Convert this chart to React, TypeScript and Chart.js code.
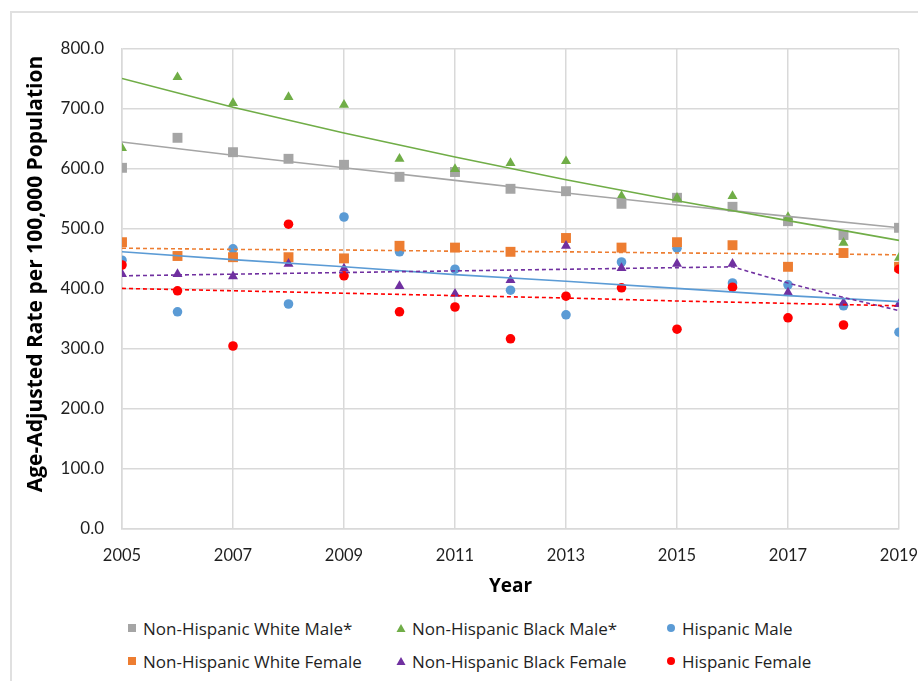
import React, { useEffect, useRef } from 'react';
import { Chart, registerables } from 'chart.js';

Chart.register(...registerables);

// ---- Data ----
const years = [2005, 2006, 2007, 2008, 2009, 2010, 2011, 2012, 2013, 2014, 2015, 2016, 2017, 2018, 2019];
const nhWhiteMale = [602, 652, 628, 617, 607, 587, 595, 567, 563, 542, 552, 537, 513, 490, 502];
const nhBlackMale = [635, 753, 710, 720, 707, 617, 600, 610, 613, 555, 552, 555, 520, 477, 452];
const hispanicMale = [448, 362, 467, 375, 520, 462, 433, 398, 357, 445, 468, 410, 407, 372, 328];
const nhWhiteFemale = [478, 455, 453, 453, 451, 472, 469, 462, 485, 469, 478, 473, 437, 460, 437];
const nhBlackFemale = [425, 425, 421, 442, 434, 405, 392, 415, 472, 435, 442, 442, 394, 377, 375];
const hispanicFemale = [440, 397, 305, 508, 422, 362, 370, 317, 388, 402, 333, 403, 352, 340, 433];

// Trend lines
const trendYears = [2005, 2007, 2009, 2011, 2013, 2015, 2017, 2019];
const trendNhWhiteMale = [645, 623, 602, 581, 560, 540, 521, 502];
const trendNhBlackMale = [751, 703, 660, 620, 582, 547, 514, 481];
const trendHispanicMale = [462, 449, 437, 424, 413, 401, 389, 379];
const trendNhWhiteFemale = [468, 466, 465, 463, 462, 460, 459, 457];
const trendHispanicFemale = [401, 397, 393, 389, 385, 380, 376, 372];
const trendNhBlackFemaleYears = [2005, 2016, 2017, 2018, 2019];
const trendNhBlackFemale = [422, 437, 410, 386, 364];

const yTicks = [0, 100, 200, 300, 400, 500, 600, 700, 800];
const xTicks = [2005, 2007, 2009, 2011, 2013, 2015, 2017, 2019];

const seriesLabels = [
  'Non-Hispanic White Male*',
  'Non-Hispanic Black Male*',
  'Hispanic Male',
  'Non-Hispanic White Female',
  'Non-Hispanic Black Female',
  'Hispanic Female',
];

const COLORS = {
  gray: '#A5A5A5',
  green: '#70AD47',
  blue: '#5B9BD5',
  orange: '#ED7D31',
  purple: '#7030A0',
  red: '#FF0000',
};

const TICK_FONT = 'Lato, "Open Sans", sans-serif';
const TEXT_FONT = '"Open Sans", Lato, sans-serif';

const legendItems = [
  { label: seriesLabels[0], color: COLORS.gray, shape: 'square' },
  { label: seriesLabels[1], color: COLORS.green, shape: 'triangle' },
  { label: seriesLabels[2], color: COLORS.blue, shape: 'circle' },
  { label: seriesLabels[3], color: COLORS.orange, shape: 'square' },
  { label: seriesLabels[4], color: COLORS.purple, shape: 'triangle' },
  { label: seriesLabels[5], color: COLORS.red, shape: 'circle' },
];

function Marker({ shape, color }: { shape: string; color: string }) {
  return (
    <svg width={10} height={10} viewBox="0 0 10 10" style={{ display: 'block' }}>
      {shape === 'square' && <rect x={1} y={1} width={8} height={8} fill={color} />}
      {shape === 'triangle' && <polygon points="5,1 9.5,9 0.5,9" fill={color} />}
      {shape === 'circle' && <circle cx={5} cy={5} r={4} fill={color} />}
    </svg>
  );
}

// Shift the y-axis title upward a little, as in the reference layout.
const yTitleShift = {
  id: 'yTitleShift',
  beforeDraw(chart: any) {
    const s = chart.scales.y;
    if (s && !s.__shifted) {
      const orig = s.drawTitle.bind(s);
      s.drawTitle = (...args: any[]) => {
        const ctx = chart.ctx;
        ctx.save();
        ctx.translate(0, -15);
        orig(...args);
        ctx.restore();
      };
      s.__shifted = true;
    }
  },
};

export default function App() {
  const canvasRef = useRef<HTMLCanvasElement>(null);

  useEffect(() => {
    const canvas = canvasRef.current;
    if (!canvas) return;

    const pts = (xs: number[], vals: number[]) => xs.map((x, i) => ({ x, y: vals[i] }));

    const markerDs = (label: string, vals: number[], color: string, style: string, radius: number, order: number) => ({
      type: 'scatter' as const,
      label,
      data: pts(years, vals),
      backgroundColor: color,
      borderColor: color,
      pointStyle: style,
      pointRadius: radius,
      pointHoverRadius: radius,
      pointBorderWidth: 0,
      showLine: false,
      order,
    });

    const trendDs = (label: string, xs: number[], vals: number[], color: string, dash: number[], order: number) => ({
      type: 'line' as const,
      label,
      data: pts(xs, vals),
      borderColor: color,
      backgroundColor: color,
      borderWidth: 1.6,
      borderDash: dash,
      pointRadius: 0,
      pointHoverRadius: 0,
      fill: false,
      tension: 0,
      order,
    });

    const chart = new Chart(canvas, {
      type: 'scatter',
      data: {
        datasets: [
          trendDs('Trend ' + seriesLabels[0], trendYears, trendNhWhiteMale, COLORS.gray, [], 5),
          trendDs('Trend ' + seriesLabels[1], trendYears, trendNhBlackMale, COLORS.green, [], 4),
          trendDs('Trend ' + seriesLabels[2], trendYears, trendHispanicMale, COLORS.blue, [], 3),
          trendDs('Trend ' + seriesLabels[3], trendYears, trendNhWhiteFemale, COLORS.orange, [4, 3], 2),
          trendDs('Trend ' + seriesLabels[4], trendNhBlackFemaleYears, trendNhBlackFemale, COLORS.purple, [4, 3], 1),
          trendDs('Trend ' + seriesLabels[5], trendYears, trendHispanicFemale, COLORS.red, [4, 3], 0),
          markerDs(seriesLabels[0], nhWhiteMale, COLORS.gray, 'rect', 7, 11),
          markerDs(seriesLabels[1], nhBlackMale, COLORS.green, 'triangle', 5.8, 10),
          markerDs(seriesLabels[2], hispanicMale, COLORS.blue, 'circle', 4.8, 9),
          markerDs(seriesLabels[3], nhWhiteFemale, COLORS.orange, 'rect', 7, 8),
          markerDs(seriesLabels[4], nhBlackFemale, COLORS.purple, 'triangle', 5.8, 7),
          markerDs(seriesLabels[5], hispanicFemale, COLORS.red, 'circle', 4.8, 6),
        ] as any,
      },
      options: {
        animation: false,
        responsive: false,
        events: [],
        layout: { padding: { left: 15, top: 49, right: 19, bottom: 12 } },
        plugins: {
          legend: { display: false },
          tooltip: { enabled: false },
        },
        scales: {
          x: {
            type: 'linear',
            min: 2005,
            max: 2019,
            afterBuildTicks: (scale: any) => {
              scale.ticks = xTicks.map((v) => ({ value: v }));
            },
            afterFit: (scale: any) => {
              scale.height = 69;
              scale.paddingLeft = 0;
              scale.paddingRight = 0;
            },
            ticks: {
              font: { family: TICK_FONT, size: 16.5 },
              color: '#1f1f1f',
              padding: 17,
              maxRotation: 0,
              callback: (v: any) => String(v),
            },
            grid: { color: '#d9d9d9', lineWidth: 1.5, drawTicks: false },
            border: { color: '#d9d9d9', width: 1.5 },
            title: {
              display: true,
              text: 'Year',
              font: { family: TEXT_FONT, size: 19, weight: 'bold' },
              color: '#000',
              padding: { top: 0, bottom: 0 },
            },
          },
          y: {
            type: 'linear',
            min: 0,
            max: 800,
            afterBuildTicks: (scale: any) => {
              scale.ticks = yTicks.map((v) => ({ value: v }));
            },
            afterFit: (scale: any) => {
              scale.width = 107;
            },
            ticks: {
              font: { family: TICK_FONT, size: 17 },
              color: '#1f1f1f',
              padding: 18,
              callback: (v: any) => Number(v).toFixed(1),
            },
            grid: { color: '#d9d9d9', lineWidth: 1.5, drawTicks: false },
            border: { color: '#d9d9d9', width: 1.5 },
            title: {
              display: true,
              text: 'Age-Adjusted Rate per 100,000 Population',
              font: { family: TEXT_FONT, size: 21, weight: 'bold' },
              color: '#000',
              padding: { top: 8, bottom: 0 },
            },
          },
        },
      } as any,
      plugins: [yTitleShift],
    });

    return () => chart.destroy();
  }, []);

  const colX = [127, 396, 666];
  const rowY = [628, 661];

  return (
    <div
      style={{
        position: 'fixed',
        left: 0,
        top: 0,
        width: 918,
        height: 681,
        overflow: 'hidden',
        background: '#fff',
        fontFamily: TEXT_FONT,
      }}
    >
      <div
        style={{
          position: 'absolute',
          left: 10,
          top: 11,
          width: 1000,
          height: 1000,
          borderTop: '2px solid #e0e0e0',
          borderLeft: '2px solid #e0e0e0',
        }}
      />
      <canvas
        ref={canvasRef}
        width={918}
        height={610}
        style={{ position: 'absolute', left: 0, top: 0, width: 918, height: 610 }}
      />
      {legendItems.map((it, i) => {
        const col = i % 3;
        const row = Math.floor(i / 3);
        return (
          <div
            key={it.label}
            style={{
              position: 'absolute',
              left: colX[col],
              top: rowY[row] - 12,
              height: 24,
              display: 'flex',
              alignItems: 'center',
              whiteSpace: 'nowrap',
              fontSize: 17,
              color: '#1f1f1f',
            }}
          >
            <Marker shape={it.shape} color={it.color} />
            <span style={{ marginLeft: 6 }}>{it.label}</span>
          </div>
        );
      })}
    </div>
  );
}
